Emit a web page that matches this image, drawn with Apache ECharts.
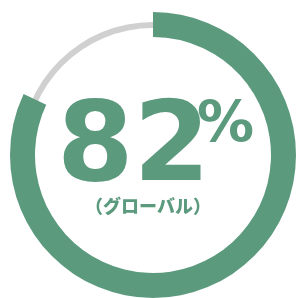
<!DOCTYPE html>
<html>
<head>
<meta charset="utf-8">
<script src="https://cdn.jsdelivr.net/npm/echarts@6/dist/echarts.min.js"></script>
<style>
  html, body { margin: 0; padding: 0; background: #fff; }
  #chart { width: 297px; height: 298px; }
</style>
</head>
<body>
<div id="chart"></div>
<script>
var shareNames = ['グローバル', 'その他'];
var shareValues = [82, 18];
var valueLabel = '82';
var subLabel = '（グローバル）';

var green = '#5c9a7e';
var gray = '#d0d0d0';

var myChart = echarts.init(document.getElementById('chart'));
var option = {
    animation: false,
    series: [
        {
            type: 'pie',
            center: [153, 155],
            radius: [127, 133],
            silent: true,
            label: { show: false },
            data: [{ name: 'track', value: 1, itemStyle: { color: gray } }]
        },
        {
            type: 'pie',
            center: [153, 155],
            radius: [118, 143],
            startAngle: 90,
            clockwise: true,
            silent: true,
            label: { show: false },
            data: [
                { name: shareNames[0], value: shareValues[0], itemStyle: { color: green } },
                { name: shareNames[1], value: shareValues[1], itemStyle: { color: 'rgba(0,0,0,0)' } }
            ]
        }
    ],
    graphic: [
        {
            type: 'text',
            x: 57,
            y: 151,
            style: {
                text: valueLabel,
                fontFamily: 'DejaVu Sans',
                fontWeight: 'bold',
                fontSize: 110,
                fill: green,
                align: 'left',
                verticalAlign: 'middle'
            }
        },
        {
            type: 'text',
            x: 197,
            y: 127,
            style: {
                text: '%',
                fontFamily: 'DejaVu Sans',
                fontWeight: 'bold',
                fontSize: 57,
                fill: green,
                align: 'left',
                verticalAlign: 'middle'
            }
        },
        {
            type: 'text',
            x: 148,
            y: 206,
            style: {
                text: subLabel,
                fontFamily: 'Noto Sans CJK JP',
                fontWeight: 900,
                fontSize: 18,
                fill: green,
                align: 'center',
                verticalAlign: 'middle'
            }
        }
    ]
};
myChart.setOption(option, true);
</script>
</body>
</html>
